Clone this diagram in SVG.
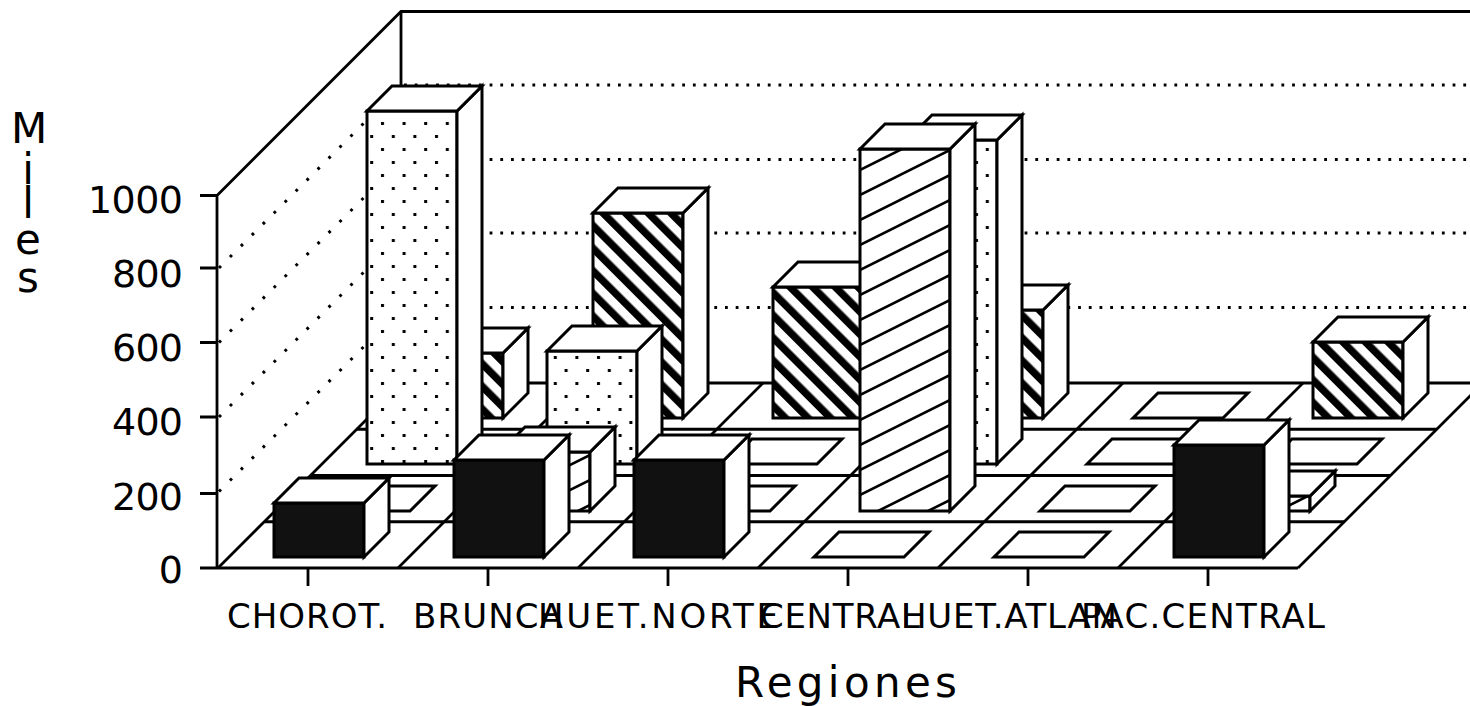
<svg xmlns="http://www.w3.org/2000/svg" width="1470" height="706" viewBox="0 0 1470 706">
<style>
.ln{stroke:#000;stroke-width:2.8;fill:none}
.face{stroke:#000;stroke-width:3;stroke-linejoin:miter}
.w{fill:#fff}
.blk{fill:#111}
.dot{stroke:#000;stroke-width:3;fill:none;stroke-dasharray:2.8 7.9}
.dotd{stroke:#000;stroke-width:3;fill:none;stroke-dasharray:2.8 12.7}
.lbl{font-family:"DejaVu Sans","Liberation Sans",sans-serif;font-size:34px;fill:#000;text-anchor:middle}
.ylbl{font-family:"DejaVu Sans","Liberation Sans",sans-serif;font-size:38px;fill:#000;text-anchor:end}
.ttl{font-family:"DejaVu Sans","Liberation Sans",sans-serif;font-size:42px;fill:#000;text-anchor:middle}
</style>
<defs>
<pattern id="pDots" width="21.6" height="26" patternUnits="userSpaceOnUse">
<rect width="21.6" height="26" fill="#fff"/>
<rect x="3" y="5" width="3" height="3" fill="#000"/>
<rect x="13.8" y="18" width="3" height="3" fill="#000"/>
</pattern>
<pattern id="pSlash" width="50" height="25" patternUnits="userSpaceOnUse">
<rect width="50" height="25" fill="#fff"/>
<path d="M0,25 L50,0 M-50,25 L50,-25 M0,50 L100,0" stroke="#000" stroke-width="2.6"/>
</pattern>
<pattern id="pBack" width="16" height="16" patternUnits="userSpaceOnUse" patternTransform="rotate(-45)">
<rect width="16" height="16" fill="#fff"/>
<rect width="7.5" height="16" fill="#000"/>
</pattern>
</defs>
<rect width="1470" height="706" fill="#fff"/>

<g id="walls">
<path class="ln" d="M217,568 L217,195.5 L401,11.5 L1470,11.5 M401,11.5 L401,383"/>
<path class="dotd" d="M219,268 L401,86 M219,342.5 L401,160.5 M219,417 L401,235 M219,491.5 L401,309.5"/>
<path class="dot" d="M404,85 L1470,85 M404,159.5 L1470,159.5 M404,233 L1470,233 M404,307.5 L1470,307.5"/>
</g>

<g id="floor">
<path class="ln" d="M200,568 L1298,568 M264.25,521.75 L1344.25,521.75 M310.5,475.5 L1390.5,475.5 M356.75,429.25 L1436.75,429.25 M403,383 L1483,383"/>
<path class="ln" d="M218,568 L403,383 M398,568 L583,383 M578,568 L763,383 M758,568 L943,383 M938,568 L1123,383 M1118,568 L1303,383 M1298,568 L1483,383"/>
</g>

<g id="y-axis">
<path class="ln" d="M200,195.5 L217,195.5 M200,268 L217,268 M200,342.5 L217,342.5 M200,417 L217,417 M200,493.5 L217,493.5"/>
<text class="ylbl" x="183" y="213" textLength="95">1000</text>
<text class="ylbl" x="183" y="287" textLength="71">800</text>
<text class="ylbl" x="183" y="361" textLength="71">600</text>
<text class="ylbl" x="183" y="435" textLength="71">400</text>
<text class="ylbl" x="183" y="510" textLength="71">200</text>
<text class="ylbl" x="183" y="583">0</text>
<text class="ttl"><tspan x="29" y="143">M</tspan><tspan x="28" y="184">i</tspan><tspan x="28" y="218">l</tspan><tspan x="28" y="254">e</tspan><tspan x="28" y="292">s</tspan></text>
</g>

<g id="x-axis">
<path class="ln" d="M308,568 L308,586 M488,568 L488,586 M668,568 L668,586 M848,568 L848,586 M1028,568 L1028,586 M1208,568 L1208,586"/>
<text class="lbl" x="307" y="628" textLength="160">CHOROT.</text>
<text class="lbl" x="488" y="628" textLength="150">BRUNCA</text>
<text class="lbl" x="658" y="628" textLength="240">HUET.NORTE</text>
<text class="lbl" x="840" y="628" textLength="160">CENTRAL</text>
<text class="lbl" x="1009" y="628" textLength="216">HUET.ATLAN</text>
<text class="lbl" x="1203" y="628" textLength="244">PAC.CENTRAL</text>
<text class="ttl" x="846" y="697" font-size="48" textLength="222">Regiones</text>
</g>

<!-- row 3 (back, dense backslash) -->
<g id="bar-chorot-r3">
<rect class="face" x="413" y="353" width="90" height="65" fill="url(#pBack)"/>
<polygon class="face w" points="503,418 528,393 528,328 503,353"/>
<polygon class="face w" points="413,353 438,328 528,328 503,353"/>
</g>
<g id="bar-brunca-r3">
<rect class="face" x="593" y="213" width="90" height="205" fill="url(#pBack)"/>
<polygon class="face w" points="683,418 708,393 708,188 683,213"/>
<polygon class="face w" points="593,213 618,188 708,188 683,213"/>
</g>
<g id="bar-norte-r3">
<rect class="face" x="773" y="287" width="90" height="131" fill="url(#pBack)"/>
<polygon class="face w" points="863,418 888,393 888,262 863,287"/>
<polygon class="face w" points="773,287 798,262 888,262 863,287"/>
</g>
<g id="bar-central-r3">
<rect class="face" x="953" y="310" width="90" height="108" fill="url(#pBack)"/>
<polygon class="face w" points="1043,418 1068,393 1068,285 1043,310"/>
<polygon class="face w" points="953,310 978,285 1068,285 1043,310"/>
</g>
<g id="bar-atlan-r3">
<polygon class="face w" points="1133,418 1158,393 1248,393 1223,418"/>
</g>
<g id="bar-pac-r3">
<rect class="face" x="1313" y="342" width="90" height="76" fill="url(#pBack)"/>
<polygon class="face w" points="1403,418 1428,393 1428,317 1403,342"/>
<polygon class="face w" points="1313,342 1338,317 1428,317 1403,342"/>
</g>

<!-- row 2 (dotted) -->
<g id="bar-chorot-r2">
<rect class="face" x="367" y="111" width="90" height="353" fill="url(#pDots)"/>
<polygon class="face w" points="457,464 482,439 482,86 457,111"/>
<polygon class="face w" points="367,111 392,86 482,86 457,111"/>
</g>
<g id="bar-brunca-r2">
<rect class="face" x="547" y="351" width="90" height="113" fill="url(#pDots)"/>
<polygon class="face w" points="637,464 662,439 662,326 637,351"/>
<polygon class="face w" points="547,351 572,326 662,326 637,351"/>
</g>
<g id="bar-norte-r2">
<polygon class="face w" points="727,464 752,439 842,439 817,464"/>
</g>
<g id="bar-central-r2">
<rect class="face" x="907" y="140" width="90" height="324" fill="url(#pDots)"/>
<polygon class="face w" points="997,464 1022,439 1022,115 997,140"/>
<polygon class="face w" points="907,140 932,115 1022,115 997,140"/>
</g>
<g id="bar-atlan-r2">
<polygon class="face w" points="1087,464 1112,439 1202,439 1177,464"/>
</g>
<g id="bar-pac-r2">
<polygon class="face w" points="1267,464 1292,439 1382,439 1357,464"/>
</g>

<!-- row 1 (slash) -->
<g id="bar-chorot-r1">
<polygon class="face w" points="320,511 345,486 435,486 410,511"/>
</g>
<g id="bar-brunca-r1">
<rect class="face" x="500" y="452" width="90" height="59" fill="url(#pSlash)"/>
<polygon class="face w" points="590,511 615,486 615,427 590,452"/>
<polygon class="face w" points="500,452 525,427 615,427 590,452"/>
</g>
<g id="bar-norte-r1">
<polygon class="face w" points="680,511 705,486 795,486 770,511"/>
</g>
<g id="bar-central-r1">
<rect class="face" x="860" y="149" width="90" height="362" fill="url(#pSlash)"/>
<polygon class="face w" points="950,511 975,486 975,124 950,149"/>
<polygon class="face w" points="860,149 885,124 975,124 950,149"/>
</g>
<g id="bar-atlan-r1">
<polygon class="face w" points="1040,511 1065,486 1155,486 1130,511"/>
</g>
<g id="bar-pac-r1">
<rect class="face" x="1220" y="496" width="90" height="15" fill="url(#pSlash)"/>
<polygon class="face w" points="1310,511 1335,486 1335,471 1310,496"/>
<polygon class="face w" points="1220,496 1245,471 1335,471 1310,496"/>
</g>

<!-- row 0 (front, black) -->
<g id="bar-chorot-r0">
<rect class="face blk" x="274" y="503" width="90" height="54"/>
<polygon class="face w" points="364,557 389,532 389,478 364,503"/>
<polygon class="face w" points="274,503 299,478 389,478 364,503"/>
</g>
<g id="bar-brunca-r0">
<rect class="face blk" x="454" y="460" width="90" height="97"/>
<polygon class="face w" points="544,557 569,532 569,435 544,460"/>
<polygon class="face w" points="454,460 479,435 569,435 544,460"/>
</g>
<g id="bar-norte-r0">
<rect class="face blk" x="634" y="460" width="90" height="97"/>
<polygon class="face w" points="724,557 749,532 749,435 724,460"/>
<polygon class="face w" points="634,460 659,435 749,435 724,460"/>
</g>
<g id="bar-central-r0">
<polygon class="face w" points="814,557 839,532 929,532 904,557"/>
</g>
<g id="bar-atlan-r0">
<polygon class="face w" points="994,557 1019,532 1109,532 1084,557"/>
</g>
<g id="bar-pac-r0">
<rect class="face blk" x="1174" y="445" width="90" height="112"/>
<polygon class="face w" points="1264,557 1289,532 1289,420 1264,445"/>
<polygon class="face w" points="1174,445 1199,420 1289,420 1264,445"/>
</g>
</svg>
